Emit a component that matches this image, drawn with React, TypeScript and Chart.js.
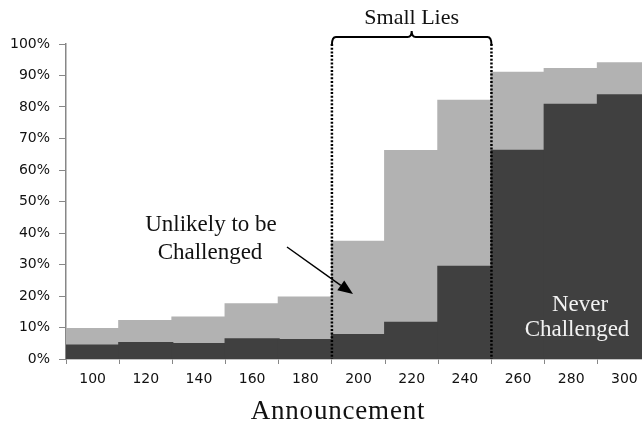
import React, { useEffect, useRef } from 'react';
import { Chart, registerables } from 'chart.js';

Chart.register(...registerables);

const categories = ['100', '120', '140', '160', '180', '200', '220', '240', '260', '280', '300'];
// dark segment (bottom)
const neverChallenged = [4.3, 5.1, 4.8, 6.3, 6.0, 7.6, 11.5, 29.3, 66.1, 80.7, 83.7];
// light segment (stacked on top)
const unlikelyChallenged = [5.2, 7.0, 8.4, 11.1, 13.5, 29.6, 54.5, 52.7, 24.8, 11.4, 10.2];
const yTickValues = [0, 10, 20, 30, 40, 50, 60, 70, 80, 90, 100];

const SERIF = '"Liberation Serif", "Times New Roman", serif';

const annotationPlugin = {
  id: 'annotations',
  afterDatasetsDraw(chart: any) {
    const { ctx, chartArea, scales } = chart;
    const x = scales.x;
    const y = scales.y;
    const boundary = (i: number) => (x.getPixelForValue(i - 1) + x.getPixelForValue(i)) / 2;
    const xL = boundary(5);
    const xR = boundary(8);
    const base = y.getPixelForValue(0);
    const by = chartArea.top - 7;
    ctx.save();

    // dotted vertical lines
    ctx.strokeStyle = '#000';
    ctx.lineWidth = 2.5;
    ctx.setLineDash([2, 1.7]);
    for (const xx of [xL, xR]) {
      ctx.beginPath();
      ctx.moveTo(xx, by + 7);
      ctx.lineTo(xx, base);
      ctx.stroke();
    }
    ctx.setLineDash([]);

    // bracket
    const mid = (xL + xR) / 2;
    ctx.lineWidth = 2;
    ctx.beginPath();
    ctx.moveTo(xL, by + 8);
    ctx.quadraticCurveTo(xL, by, xL + 4, by);
    ctx.lineTo(mid - 4, by);
    ctx.quadraticCurveTo(mid, by, mid, by - 6);
    ctx.quadraticCurveTo(mid, by, mid + 4, by);
    ctx.lineTo(xR - 4, by);
    ctx.quadraticCurveTo(xR, by, xR, by + 8);
    ctx.stroke();

    // texts
    ctx.textAlign = 'center';
    ctx.textBaseline = 'middle';
    ctx.fillStyle = '#111';
    ctx.font = `22px ${SERIF}`;
    ctx.fillText('Small Lies', mid, 18);

    ctx.font = `23px ${SERIF}`;
    ctx.fillText('Unlikely to be', 211, 225);
    ctx.fillText('Challenged', 210, 253);

    // arrow
    const x1 = 287, y1 = 247, x2 = 353, y2 = 294;
    const ang = Math.atan2(y2 - y1, x2 - x1);
    const hl = 15, hw = 6;
    const bx = x2 - hl * Math.cos(ang);
    const byy = y2 - hl * Math.sin(ang);
    ctx.strokeStyle = '#000';
    ctx.lineWidth = 1.5;
    ctx.beginPath();
    ctx.moveTo(x1, y1);
    ctx.lineTo(bx, byy);
    ctx.stroke();
    ctx.fillStyle = '#000';
    ctx.beginPath();
    ctx.moveTo(x2, y2);
    ctx.lineTo(bx + hw * Math.sin(ang), byy - hw * Math.cos(ang));
    ctx.lineTo(bx - hw * Math.sin(ang), byy + hw * Math.cos(ang));
    ctx.closePath();
    ctx.fill();

    ctx.fillStyle = '#f2f2f2';
    ctx.font = `23px ${SERIF}`;
    ctx.fillText('Never', 580, 305);
    ctx.fillText('Challenged', 577, 330);

    ctx.fillStyle = '#111';
    ctx.font = `27px ${SERIF}`;
    (ctx as any).letterSpacing = '0.8px';
    ctx.fillText('Announcement', 338, 412);
    ctx.restore();
  },
};

export default function App() {
  const canvasRef = useRef<HTMLCanvasElement | null>(null);

  useEffect(() => {
    const canvas = canvasRef.current;
    if (!canvas) return;
    const chart = new Chart(canvas, {
      type: 'bar',
      data: {
        labels: categories,
        datasets: [
          {
            label: 'Never Challenged',
            data: neverChallenged,
            backgroundColor: '#404040',
            borderWidth: 0,
            inflateAmount: 1,
            barPercentage: 1,
            categoryPercentage: 1,
          },
          {
            label: 'Unlikely to be Challenged',
            data: unlikelyChallenged,
            backgroundColor: '#b2b2b2',
            borderWidth: 0,
            inflateAmount: 1,
            barPercentage: 1,
            categoryPercentage: 1,
          },
        ],
      },
      options: {
        responsive: true,
        maintainAspectRatio: false,
        animation: false,
        layout: { padding: { top: 44, right: 9, bottom: 0, left: 0 } },
        plugins: {
          legend: { display: false },
          tooltip: { enabled: false },
          title: { display: false },
        },
        scales: {
          x: {
            stacked: true,
            offset: true,
            grid: {
              display: true,
              offset: true,
              drawOnChartArea: false,
              drawTicks: true,
              tickLength: 5,
              color: '#878787',
            },
            border: { display: true, color: '#878787', width: 1.5 },
            ticks: {
              color: '#111',
              padding: 7,
              maxRotation: 0,
              autoSkip: false,
              font: { family: '"DejaVu Sans", sans-serif', size: 14 },
            },
            afterFit: (scale: any) => {
              scale.height = 64;
            },
          },
          y: {
            stacked: true,
            min: 0,
            max: 100,
            afterBuildTicks: (scale: any) => {
              scale.ticks = yTickValues.map((v) => ({ value: v }));
            },
            grid: {
              display: true,
              drawOnChartArea: false,
              drawTicks: true,
              tickLength: 7,
              color: '#878787',
            },
            border: { display: true, color: '#878787', width: 1.5 },
            ticks: {
              color: '#111',
              padding: 9,
              font: { family: '"DejaVu Sans", sans-serif', size: 14 },
              callback: (v: any) => `${v}%`,
            },
            afterFit: (scale: any) => {
              scale.width = 66;
            },
          },
        },
      },
      plugins: [annotationPlugin],
    });
    return () => chart.destroy();
  }, []);

  return (
    <div
      style={{
        position: 'absolute',
        left: 0,
        top: 0,
        width: 642,
        height: 423,
        overflow: 'hidden',
        background: '#fff',
      }}
    >
      <div style={{ position: 'relative', width: 660, height: 423 }}>
        <canvas ref={canvasRef} />
      </div>
    </div>
  );
}
